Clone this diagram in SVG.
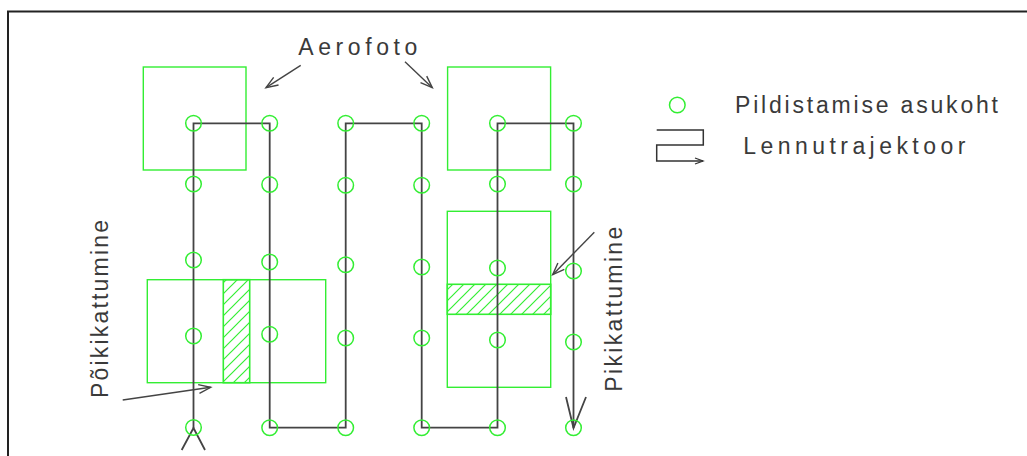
<svg xmlns="http://www.w3.org/2000/svg" width="1027" height="456" viewBox="0 0 1027 456">
  <style>
    .frame{fill:none;stroke:#222;stroke-width:2}
    .photo{fill:none;stroke:#33ee33;stroke-width:1.4}
    .hatched{fill:url(#hatch);stroke:#33ee33;stroke-width:1.6}
    .wp{fill:none;stroke:#33ee33;stroke-width:1.5}
    .traj{fill:none;stroke:#444;stroke-width:1.8;stroke-linejoin:miter}
    .ptr{fill:none;stroke:#444;stroke-width:1.4}
    .lbl{font-family:"Liberation Sans",Arial,sans-serif;font-size:23px;fill:#3a3a3a}
  </style>
  <defs>
    <marker id="open" markerUnits="userSpaceOnUse" markerWidth="16" markerHeight="12" viewBox="-14 -6 16 12" refX="0" refY="0" orient="auto">
      <path d="M-12,-4.5 L0,0 L-12,4.5" fill="none" stroke="#444" stroke-width="1.4"/>
    </marker>
    <marker id="small" markerUnits="userSpaceOnUse" markerWidth="12" markerHeight="8" viewBox="-10 -4 12 8" refX="0" refY="0" orient="auto">
      <path d="M-8,-3 L0,0 L-8,3" fill="none" stroke="#333" stroke-width="1.3"/>
    </marker>
    <pattern id="hatch" patternUnits="userSpaceOnUse" width="11" height="11">
      <path d="M0,11 L11,0 M-3,3 L3,-3 M8,14 L14,8" stroke="#33ee33" stroke-width="1.2"/>
    </pattern>
  </defs>

  <g id="frame">
    <path class="frame" d="M8,456 V11.5 H1027"/>
  </g>

  <g id="photos">
    <rect id="photo-top-left" class="photo" x="143.3" y="67" width="102.7" height="103"/>
    <rect id="photo-top-right" class="photo" x="447.6" y="67" width="103" height="103"/>
    <g id="photo-pair-cross">
      <rect class="photo" x="147.3" y="279.7" width="178.4" height="103"/>
      <rect class="hatched" x="223.3" y="279.7" width="26.4" height="103"/>
    </g>
    <g id="photo-pair-forward">
      <rect class="photo" x="447.3" y="211.3" width="103.4" height="176"/>
      <rect class="hatched" x="447.3" y="284.3" width="103.4" height="30"/>
    </g>
  </g>

  <g id="connectors">
    <path id="trajectory" class="traj" d="M193.5,428 V123.3 H269.7 V427.7 H345.7 V123.3 H421.7 V427.7 H497.5 V123.3 H573.5 V428"/>
    <path id="traj-start" class="traj" d="M181.7,450 L193.5,428 L205,450"/>
    <path id="traj-end" class="traj" d="M566,397 L573.5,428 L586,397"/>
    <line class="ptr" x1="300.7" y1="65.3" x2="266" y2="87.7" marker-end="url(#open)"/>
    <line class="ptr" x1="405" y1="61.7" x2="432.3" y2="87.7" marker-end="url(#open)"/>
    <line class="ptr" x1="122.7" y1="400" x2="210.7" y2="387.3" marker-end="url(#open)"/>
    <line class="ptr" x1="594.3" y1="232.3" x2="552.7" y2="274.7" marker-end="url(#open)"/>
  </g>

  <g id="waypoints">
    <circle class="wp" cx="193.5" cy="123.3" r="7.8"/>
    <circle class="wp" cx="193.5" cy="184" r="7.8"/>
    <circle class="wp" cx="193.5" cy="260" r="7.8"/>
    <circle class="wp" cx="193.5" cy="336" r="7.8"/>
    <circle class="wp" cx="193.5" cy="427.5" r="7.8"/>
    <circle class="wp" cx="269.7" cy="123.3" r="7.8"/>
    <circle class="wp" cx="269.7" cy="184.5" r="7.8"/>
    <circle class="wp" cx="269.7" cy="262" r="7.8"/>
    <circle class="wp" cx="269.7" cy="334.3" r="7.8"/>
    <circle class="wp" cx="269.7" cy="427.7" r="7.8"/>
    <circle class="wp" cx="345.7" cy="123.3" r="7.8"/>
    <circle class="wp" cx="345.7" cy="185.3" r="7.8"/>
    <circle class="wp" cx="345.7" cy="264.7" r="7.8"/>
    <circle class="wp" cx="345.7" cy="338" r="7.8"/>
    <circle class="wp" cx="345.7" cy="427.7" r="7.8"/>
    <circle class="wp" cx="421.7" cy="123.3" r="7.8"/>
    <circle class="wp" cx="421.7" cy="185.3" r="7.8"/>
    <circle class="wp" cx="421.7" cy="267" r="7.8"/>
    <circle class="wp" cx="421.7" cy="338" r="7.8"/>
    <circle class="wp" cx="421.7" cy="427.7" r="7.8"/>
    <circle class="wp" cx="497.5" cy="123.3" r="7.8"/>
    <circle class="wp" cx="497.5" cy="184" r="7.8"/>
    <circle class="wp" cx="497.5" cy="268" r="7.8"/>
    <circle class="wp" cx="497.5" cy="340" r="7.8"/>
    <circle class="wp" cx="497.5" cy="427.7" r="7.8"/>
    <circle class="wp" cx="573.5" cy="123.3" r="7.8"/>
    <circle class="wp" cx="573.5" cy="184" r="7.8"/>
    <circle class="wp" cx="573.5" cy="271" r="7.8"/>
    <circle class="wp" cx="573.5" cy="342" r="7.8"/>
    <circle class="wp" cx="573.5" cy="427.7" r="7.8"/>
  </g>

  <g id="labels">
    <text id="lbl-aerofoto" class="lbl" x="298.3" y="55" textLength="119" lengthAdjust="spacing">Aerofoto</text>
    <text id="lbl-poiki" class="lbl" transform="translate(108.3,398) rotate(-90)" x="0" y="0" textLength="178" lengthAdjust="spacing">Põikikattumine</text>
    <text id="lbl-piki" class="lbl" transform="translate(621.7,391.7) rotate(-90)" x="0" y="0" textLength="165" lengthAdjust="spacing">Pikikattumine</text>
  </g>

  <g id="legend">
    <g id="legend-waypoint">
      <circle class="wp" cx="677.3" cy="105" r="7.8"/>
      <text class="lbl" x="735" y="113.3" textLength="263" lengthAdjust="spacing">Pildistamise asukoht</text>
    </g>
    <g id="legend-trajectory">
      <path d="M656.7,130 H703.3 V145 H656.7 V161 H703" fill="none" stroke="#333" stroke-width="1.5" marker-end="url(#small)"/>
      <text class="lbl" x="743.3" y="154" textLength="222" lengthAdjust="spacing">Lennutrajektoor</text>
    </g>
  </g>
</svg>
